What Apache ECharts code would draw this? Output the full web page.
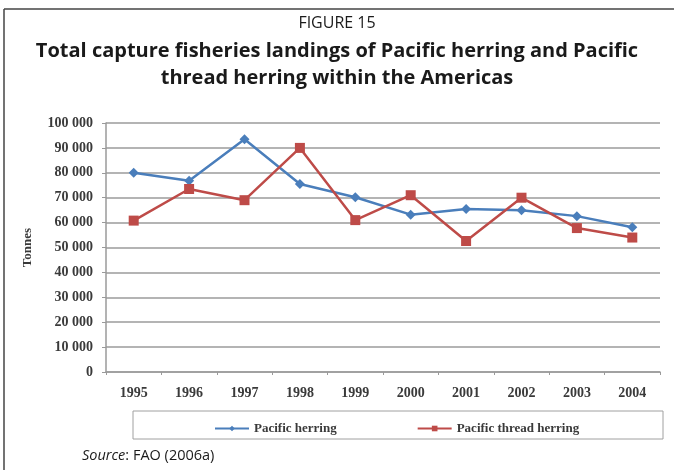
<!DOCTYPE html>
<html>
<head>
<meta charset="utf-8">
<script src="https://cdn.jsdelivr.net/npm/echarts@6/dist/echarts.min.js"></script>
<style>
  html, body { margin: 0; padding: 0; background: #ffffff; }
  #chart { width: 674px; height: 473px; }
</style>
</head>
<body>
<div id="chart"></div>
<script>
// Landings by year, tonnes
var years = ['1995', '1996', '1997', '1998', '1999', '2000', '2001', '2002', '2003', '2004'];
var pacificHerring = [80000, 76800, 93500, 75500, 70200, 63200, 65500, 65000, 62600, 58100];
var pacificThreadHerring = [60800, 73500, 69000, 90000, 61000, 71000, 52600, 70000, 57800, 54000];
var seriesNames = ['Pacific herring', 'Pacific thread herring'];

var serif = '"Liberation Serif", "DejaVu Serif", serif';
var sans = '"Open Sans", "Noto Sans", sans-serif';

function thousands(v) {
  return String(v).replace(/\B(?=(\d{3})+(?!\d))/g, ' ');
}

var titleStyle = { fontFamily: sans, fontSize: 20, fontWeight: 'bold', color: '#1a1a1a' };

var chart = echarts.init(document.getElementById('chart'));
chart.setOption({
  backgroundColor: '#ffffff',
  animation: false,
  title: [
    {
      text: 'FIGURE 15',
      left: 'center', top: 10,
      textStyle: { fontFamily: sans, fontSize: 16, fontWeight: 'normal', color: '#1a1a1a' }
    },
    { text: 'Total capture fisheries landings of Pacific herring and Pacific', left: 'center', top: 36, textStyle: titleStyle },
    { text: 'thread herring within the Americas', left: 'center', top: 63, textStyle: titleStyle }
  ],
  grid: { left: 106, right: 14, top: 123, bottom: 101, containLabel: false },
  xAxis: {
    type: 'category',
    data: years,
    boundaryGap: true,
    axisLine: { lineStyle: { color: '#9a9a9a', width: 1.5 } },
    axisTick: { show: true, length: 3, lineStyle: { color: '#9a9a9a' } },
    axisLabel: { fontFamily: serif, fontSize: 14, fontWeight: 'bold', color: '#3a3a3a', margin: 14 }
  },
  yAxis: {
    type: 'value',
    min: 0, max: 100000, interval: 10000,
    name: 'Tonnes',
    nameLocation: 'middle',
    nameRotate: 90,
    nameGap: 72,
    nameTextStyle: { fontFamily: serif, fontSize: 13, fontWeight: 'bold', color: '#3a3a3a' },
    axisLine: { show: true, lineStyle: { color: '#9a9a9a', width: 1.5 } },
    axisTick: { show: true, length: 4, lineStyle: { color: '#9a9a9a' } },
    axisLabel: { fontFamily: serif, fontSize: 14, fontWeight: 'bold', color: '#3a3a3a', margin: 13, formatter: thousands },
    splitLine: { lineStyle: { color: '#b4b4b4', width: 2 } }
  },
  legend: {
    data: seriesNames,
    left: 209, top: 417,
    itemWidth: 34, itemHeight: 7,
    itemGap: 80,
    textStyle: { fontFamily: serif, fontSize: 13, fontWeight: 'bold', color: '#3a3a3a' }
  },
  series: [
    {
      name: seriesNames[0],
      type: 'line',
      data: pacificHerring,
      symbol: 'diamond', symbolSize: 10,
      lineStyle: { color: '#4a7ebb', width: 2.5 },
      itemStyle: { color: '#4a7ebb' }
    },
    {
      name: seriesNames[1],
      type: 'line',
      data: pacificThreadHerring,
      symbol: 'rect', symbolSize: 10,
      lineStyle: { color: '#be4b48', width: 2.5 },
      itemStyle: { color: '#be4b48' }
    }
  ],
  graphic: [
    // figure frame: top and left rules
    { type: 'line', shape: { x1: 4, y1: 9, x2: 674, y2: 9 }, style: { stroke: '#444', lineWidth: 1.5 } },
    { type: 'line', shape: { x1: 4, y1: 9, x2: 4, y2: 470 }, style: { stroke: '#444', lineWidth: 1.5 } },
    // legend frame
    { type: 'rect', shape: { x: 133, y: 411, width: 530, height: 28 }, style: { fill: 'none', stroke: '#a0a0a0', lineWidth: 1 }, z: 1 },
    {
      type: 'text', left: 82, top: 448,
      style: {
        text: '{i|Source}: FAO (2006a)',
        fontFamily: sans, fontSize: 14.5, fill: '#1a1a1a',
        rich: { i: { fontStyle: 'italic', fontFamily: sans, fontSize: 14.5 } }
      }
    }
  ]
});
</script>
</body>
</html>
